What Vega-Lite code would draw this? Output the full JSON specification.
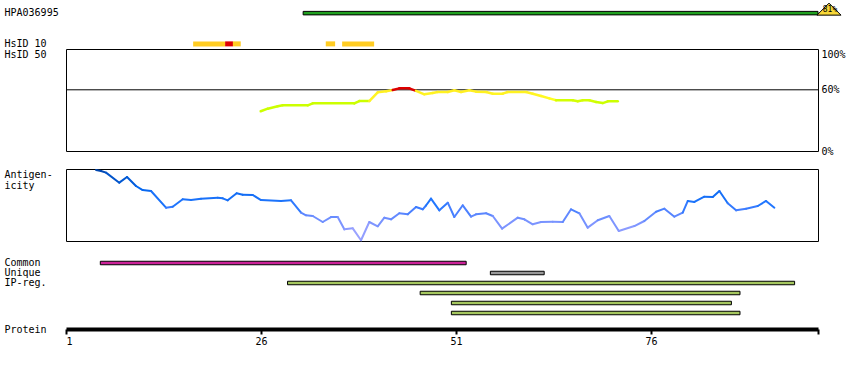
{
  "$schema": "https://vega.github.io/schema/vega-lite/v6.json",
  "background": "white",
  "padding": {"left": 3, "top": 1, "right": 5, "bottom": 5},
  "config": {
    "font": "DejaVu Sans Mono",
    "axis": {"labelFont": "DejaVu Sans Mono", "labelFontSize": 10, "labelColor": "black", "titleFont": "DejaVu Sans Mono", "titleFontSize": 10, "titleFontWeight": "normal", "titleColor": "black", "grid": false, "domain": false, "ticks": false},
    "view": {"stroke": "black", "strokeWidth": 1}
  },
  "spacing": 0,
  "bounds": "flush",
  "vconcat": [
    {
      "width": 752,
      "height": 41,
      "view": {"stroke": null},
      "layer": [
        {
          "data": {"values": [{"lane": "HPA036995", "start": 31.4, "end": 97.4, "identity": "81%"}]},
          "mark": {"type": "bar", "height": 3.5, "color": "#20a020", "stroke": "black", "strokeWidth": 1},
          "encoding": {
            "x": {"field": "start", "type": "quantitative", "scale": {"domain": [1, 97.4], "nice": false, "zero": false}, "axis": null},
            "x2": {"field": "end"},
            "y": {"field": "lane", "type": "nominal", "scale": {"domain": ["HPA036995", " ", "  ", "HsID 10"], "paddingInner": 0, "paddingOuter": 0}, "axis": {"labelAlign": "left", "labelPadding": 62, "title": null}}
          }
        },
        {
          "data": {"values": [{"lane": "HPA036995", "start": 31.4, "end": 97.4, "identity": "81%"}]},
          "mark": {"type": "point", "shape": "M -1 0.167 L 0 -0.833 L 1 0.167 Z", "size": 576, "filled": true, "fill": "#f8d838", "stroke": "black", "strokeWidth": 1, "opacity": 1, "xOffset": 11},
          "encoding": {
            "x": {"field": "end", "type": "quantitative"},
            "y": {"field": "lane", "type": "nominal"}
          }
        },
        {
          "data": {"values": [{"lane": "HPA036995", "start": 31.4, "end": 97.4, "identity": "81%"}]},
          "mark": {"type": "text", "fontSize": 8, "font": "DejaVu Sans Mono", "color": "black", "dx": 12, "dy": -3},
          "encoding": {
            "x": {"field": "end", "type": "quantitative"},
            "y": {"field": "lane", "type": "nominal"},
            "text": {"field": "identity"}
          }
        },
        {
          "data": {"values": [
            {"lane": "HsID 10", "match": "similar", "start": 17.3, "end": 21.4},
            {"lane": "HsID 10", "match": "identical", "start": 21.4, "end": 22.4},
            {"lane": "HsID 10", "match": "similar", "start": 22.4, "end": 23.4},
            {"lane": "HsID 10", "match": "similar", "start": 34.3, "end": 35.5},
            {"lane": "HsID 10", "match": "similar", "start": 36.4, "end": 40.5}
          ]},
          "mark": {"type": "bar", "height": 5},
          "encoding": {
            "x": {"field": "start", "type": "quantitative"},
            "x2": {"field": "end"},
            "y": {"field": "lane", "type": "nominal"},
            "color": {"field": "match", "type": "nominal", "scale": {"domain": ["similar", "identical"], "range": ["#ffcc22", "#dd0000"]}, "legend": null}
          }
        }
      ]
    },
    {
      "width": 752,
      "height": 102,
      "layer": [
        {
          "data": {"values": [{"ref": 60}]},
          "mark": {"type": "rule", "color": "black", "strokeWidth": 1},
          "encoding": {
            "y": {"field": "ref", "type": "quantitative", "scale": {"domain": [0, 100], "nice": false},
              "axis": {"orient": "right", "values": [0, 60, 100], "labelExpr": "datum.value + '%'", "labelPadding": 3,
                "labelBaseline": {"condition": {"test": "datum.value == 100", "value": "top"}, "value": "middle"},
                "title": "HsID 50", "titleAngle": 0, "titleAlign": "left", "titleBaseline": "top", "titleX": -814, "titleY": 0}}
          }
        },
        {
          "data": {"values": [
            {"r": 25.96, "v": 39}, {"r": 26.86, "v": 41.5}, {"r": 28.14, "v": 43.8}, {"r": 28.78, "v": 44.8},
            {"r": 31.99, "v": 44.8}, {"r": 32.63, "v": 46.7}, {"r": 37.96, "v": 46.7}, {"r": 38.6, "v": 49},
            {"r": 39.88, "v": 49}, {"r": 40.96, "v": 57.5}, {"r": 42.03, "v": 58.5}, {"r": 42.88, "v": 59.8},
            {"r": 43.73, "v": 61.4}, {"r": 45.01, "v": 61.4}, {"r": 45.87, "v": 59}, {"r": 46.94, "v": 55.6},
            {"r": 48.01, "v": 56.9}, {"r": 48.65, "v": 57.8}, {"r": 49.94, "v": 57.8}, {"r": 50.78, "v": 59.5},
            {"r": 51.64, "v": 57.8}, {"r": 52.71, "v": 59.5}, {"r": 53.56, "v": 58.2}, {"r": 54.85, "v": 57.8},
            {"r": 55.71, "v": 56.2}, {"r": 56.99, "v": 56.2}, {"r": 57.63, "v": 57.8}, {"r": 59.97, "v": 57.8},
            {"r": 60.83, "v": 56.2}, {"r": 61.9, "v": 53.9}, {"r": 62.96, "v": 51.6}, {"r": 63.82, "v": 49.7},
            {"r": 65.96, "v": 49.7}, {"r": 66.6, "v": 48.7}, {"r": 67.24, "v": 49.7}, {"r": 68.09, "v": 49.7},
            {"r": 68.95, "v": 48}, {"r": 69.81, "v": 47}, {"r": 70.45, "v": 48.7}, {"r": 71.73, "v": 48.7}
          ]},
          "transform": [
            {"window": [{"op": "lead", "field": "r", "as": "r2"}, {"op": "lead", "field": "v", "as": "v2"}], "sort": [{"field": "r", "order": "ascending"}]},
            {"filter": "datum.r2 != null"},
            {"calculate": "max(datum.v, datum.v2)", "as": "vmax"}
          ],
          "mark": {"type": "rule", "strokeWidth": 2.5, "strokeCap": "round"},
          "encoding": {
            "x": {"field": "r", "type": "quantitative", "scale": {"domain": [1, 97.4], "nice": false, "zero": false}, "axis": null},
            "x2": {"field": "r2"},
            "y": {"field": "v", "type": "quantitative"},
            "y2": {"field": "v2"},
            "color": {"field": "vmax", "type": "quantitative", "scale": {"type": "linear", "domain": [49.5, 51, 59.99, 60.01], "range": ["#ccff00", "#ffff22", "#ffee22", "#dd0000"], "clamp": true}, "legend": null}
          }
        }
      ]
    },
    {
      "width": 752,
      "height": 18,
      "view": {"stroke": null},
      "data": {"values": []},
      "mark": "point"
    },
    {
      "width": 752,
      "height": 72,
      "data": {"values": [
        {"r": 4.85, "v": 98.6}, {"r": 5.49, "v": 97.2}, {"r": 6.13, "v": 94.9}, {"r": 7.83, "v": 81.0},
        {"r": 8.82, "v": 88.9}, {"r": 9.97, "v": 76.4}, {"r": 10.83, "v": 70.8}, {"r": 11.9, "v": 69.4},
        {"r": 13.82, "v": 46.3}, {"r": 14.68, "v": 47.6}, {"r": 15.96, "v": 57.9}, {"r": 17.03, "v": 56.9},
        {"r": 18.31, "v": 58.8}, {"r": 20.45, "v": 60.1}, {"r": 21.09, "v": 59.3}, {"r": 21.73, "v": 56.5},
        {"r": 22.88, "v": 66.3}, {"r": 23.65, "v": 64.3}, {"r": 24.94, "v": 63.9}, {"r": 26.0, "v": 56.9},
        {"r": 28.56, "v": 55.6}, {"r": 29.85, "v": 56.5}, {"r": 31.13, "v": 39.3}, {"r": 31.77, "v": 35.7},
        {"r": 32.63, "v": 34.7}, {"r": 33.91, "v": 26.4}, {"r": 34.97, "v": 33.3}, {"r": 35.83, "v": 33.3},
        {"r": 36.68, "v": 16.2}, {"r": 37.76, "v": 17.6}, {"r": 38.82, "v": 1.0}, {"r": 39.88, "v": 26.4},
        {"r": 40.96, "v": 20.4}, {"r": 41.81, "v": 32.4}, {"r": 42.67, "v": 30.1}, {"r": 43.73, "v": 38.5},
        {"r": 44.81, "v": 37.1}, {"r": 45.87, "v": 47.2}, {"r": 46.73, "v": 44.0}, {"r": 47.15, "v": 49.3},
        {"r": 47.79, "v": 58.8}, {"r": 48.86, "v": 42.6}, {"r": 49.94, "v": 53.2}, {"r": 50.78, "v": 33.3},
        {"r": 51.86, "v": 49.6}, {"r": 52.92, "v": 33.8}, {"r": 53.56, "v": 37.1}, {"r": 54.85, "v": 38.5},
        {"r": 55.71, "v": 34.7}, {"r": 56.9, "v": 17.1}, {"r": 58.91, "v": 32.4}, {"r": 59.76, "v": 30.1},
        {"r": 60.83, "v": 23.2}, {"r": 61.9, "v": 26.4}, {"r": 63.4, "v": 26.8}, {"r": 64.68, "v": 26.4},
        {"r": 65.74, "v": 44.0}, {"r": 66.81, "v": 38.5}, {"r": 67.88, "v": 18.5}, {"r": 69.17, "v": 28.8},
        {"r": 70.65, "v": 34.7}, {"r": 71.86, "v": 13.9}, {"r": 73.86, "v": 20.8}, {"r": 75.14, "v": 27.8},
        {"r": 76.64, "v": 40.7}, {"r": 77.71, "v": 44.9}, {"r": 78.99, "v": 33.8}, {"r": 80.06, "v": 39.3},
        {"r": 80.71, "v": 55.6}, {"r": 81.55, "v": 54.2}, {"r": 82.83, "v": 61.5}, {"r": 83.91, "v": 61.1},
        {"r": 84.76, "v": 69.4}, {"r": 85.83, "v": 52.4}, {"r": 86.9, "v": 42.6}, {"r": 88.18, "v": 44.9},
        {"r": 89.68, "v": 48.6}, {"r": 90.74, "v": 55.6}, {"r": 91.81, "v": 46.3}
      ]},
      "transform": [
        {"window": [{"op": "lead", "field": "r", "as": "r2"}, {"op": "lead", "field": "v", "as": "v2"}], "sort": [{"field": "r", "order": "ascending"}]},
        {"filter": "datum.r2 != null"},
        {"calculate": "(datum.v + datum.v2) / 2", "as": "vm"}
      ],
      "mark": {"type": "rule", "strokeWidth": 2, "strokeCap": "round"},
      "encoding": {
        "x": {"field": "r", "type": "quantitative", "scale": {"domain": [1, 97.4], "nice": false, "zero": false}, "axis": null},
        "x2": {"field": "r2"},
        "y": {"field": "v", "type": "quantitative", "scale": {"domain": [0, 100], "nice": false},
          "axis": {"labels": false, "title": ["Antigen-", "icity"], "titleAngle": 0, "titleAlign": "left", "titleBaseline": "top", "titleX": -62, "titleY": 0, "titleLineHeight": 11}},
        "y2": {"field": "v2"},
        "color": {"field": "vm", "type": "quantitative", "scale": {"type": "linear", "domain": [0, 30, 50, 75, 100], "range": ["#aaaaff", "#7090ff", "#2277ff", "#0066ee", "#0044aa"], "clamp": true}, "legend": null}
      }
    },
    {
      "width": 752,
      "height": 17,
      "view": {"stroke": null},
      "data": {"values": []},
      "mark": "point"
    },
    {
      "width": 752,
      "height": 60,
      "view": {"stroke": null},
      "data": {"values": [
        {"lane": "Common", "kind": "Common", "start": 5.4, "end": 52.3},
        {"lane": "Unique", "kind": "Unique", "start": 55.4, "end": 62.3},
        {"lane": "IP-reg. 1", "kind": "IP-reg.", "start": 29.4, "end": 94.4},
        {"lane": "IP-reg. 2", "kind": "IP-reg.", "start": 46.4, "end": 87.4},
        {"lane": "IP-reg. 3", "kind": "IP-reg.", "start": 50.4, "end": 86.3},
        {"lane": "IP-reg. 4", "kind": "IP-reg.", "start": 50.4, "end": 87.4}
      ]},
      "mark": {"type": "bar", "height": 3.5, "stroke": "black", "strokeWidth": 1},
      "encoding": {
        "x": {"field": "start", "type": "quantitative", "scale": {"domain": [1, 97.4], "nice": false, "zero": false},
          "axis": {"orient": "bottom", "offset": 11, "values": [1, 26, 51, 76, 97.4], "labelExpr": "datum.value > 97 ? '' : datum.label",
            "domain": true, "domainColor": "black", "domainWidth": 4, "ticks": true, "tickColor": "black", "tickWidth": 2, "tickSize": 5, "labelPadding": 2,
            "title": "Protein", "titleAngle": 0, "titleAlign": "left", "titleBaseline": "middle", "titleX": -62, "titleY": 0}},
        "x2": {"field": "end"},
        "y": {"field": "lane", "type": "nominal", "scale": {"domain": ["Common", "Unique", "IP-reg. 1", "IP-reg. 2", "IP-reg. 3", "IP-reg. 4"], "paddingInner": 0, "paddingOuter": 0},
          "axis": {"labelAlign": "left", "labelPadding": 62, "title": null, "labelExpr": "datum.value == 'IP-reg. 1' ? 'IP-reg.' : (indexof(datum.value, 'IP-reg.') == 0 ? '' : datum.value)"}},
        "color": {"field": "kind", "type": "nominal", "scale": {"domain": ["Common", "Unique", "IP-reg."], "range": ["#cc2299", "#999999", "#a5c75f"]}, "legend": null}
      }
    }
  ]
}
